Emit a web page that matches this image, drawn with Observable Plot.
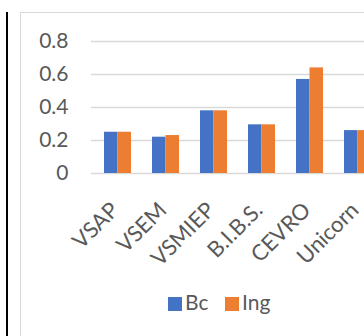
<!DOCTYPE html>
<html><head><meta charset="utf-8">
<script src="https://cdn.jsdelivr.net/npm/d3@7"></script>
<script src="https://cdn.jsdelivr.net/npm/@observablehq/plot@0.6"></script>
<style>
body{margin:0;background:#fff;}
#wrap{position:relative;width:364px;height:336px;overflow:hidden;font-family:Lato,sans-serif;background:#fff;}
#vline{position:absolute;left:6px;top:12px;width:2px;height:330px;background:#000;}
#frame{position:absolute;left:20px;top:12px;width:400px;height:400px;border:1px solid #d9d9d9;box-sizing:border-box;}
#chart{position:absolute;left:0;top:0;width:383px;}
#chart svg{max-width:none !important;}
.leg{position:absolute;top:297px;width:14px;height:14px;}
.legt{position:absolute;top:290px;font-size:21px;color:#595959;line-height:24px;}
</style>
</head><body>
<div id="wrap">
<div id="vline"></div>
<div id="frame"></div>
<div id="chart"></div>
<div id="legend"></div>
</div>
<script>
const categories = ["VSAP","VSEM","VSMIEP","B.I.B.S.","CEVRO","Unicorn"];
const series = ["Bc","Ing"];
const bcValues = [0.25,0.22,0.38,0.295,0.57,0.26];
const ingValues = [0.25,0.23,0.38,0.295,0.64,0.26];
const yTicks = [0,0.2,0.4,0.6,0.8];
const colors = ["#4472C4","#ED7D31"];

const bc = categories.map((c,i)=>({cat:c, series:"Bc", value:bcValues[i]}));
const ing = categories.map((c,i)=>({cat:c, series:"Ing", value:ingValues[i]}));

const chart = Plot.plot({
  width:383, height:336,
  marginLeft:91, marginRight:0, marginTop:41, marginBottom:163,
  style:{background:"transparent", fontFamily:"Lato, sans-serif", fontSize:"21px", color:"#595959", overflow:"visible", maxWidth:"none"},
  x:{domain:categories, paddingInner:0.444, paddingOuter:0.222, axis:null},
  y:{domain:[0,0.8], axis:null},
  color:{domain:series, range:colors},
  marks:[
    Plot.ruleY(yTicks, {stroke:"#d9d9d9", strokeWidth:1.3}),
    Plot.text(yTicks, {y:d=>d, text:d=>String(d), frameAnchor:"left", textAnchor:"end", dx:-23, fill:"#595959", fontSize:21}),
    Plot.barY(bc, {x:"cat", y:"value", fill:d=>d.series, insetRight:13.5}),
    Plot.barY(ing, {x:"cat", y:"value", fill:d=>d.series, insetLeft:13.5}),
    Plot.text(categories, {x:d=>d, y:0, text:d=>d, rotate:-45, textAnchor:"end", lineAnchor:"bottom", dx:2, dy:38, fill:"#595959", fontSize:22})
  ]
});
document.getElementById("chart").appendChild(chart);

const leg = document.getElementById("legend");
const items = [{x:168, tx:185}, {x:225, tx:242}];
series.forEach((s,i)=>{
  const sq = document.createElement("div");
  sq.className="leg"; sq.style.left=items[i].x+"px"; sq.style.background=colors[i];
  leg.appendChild(sq);
  const t = document.createElement("div");
  t.className="legt"; t.style.left=items[i].tx+"px"; t.textContent=s;
  leg.appendChild(t);
});
</script>
</body></html>
